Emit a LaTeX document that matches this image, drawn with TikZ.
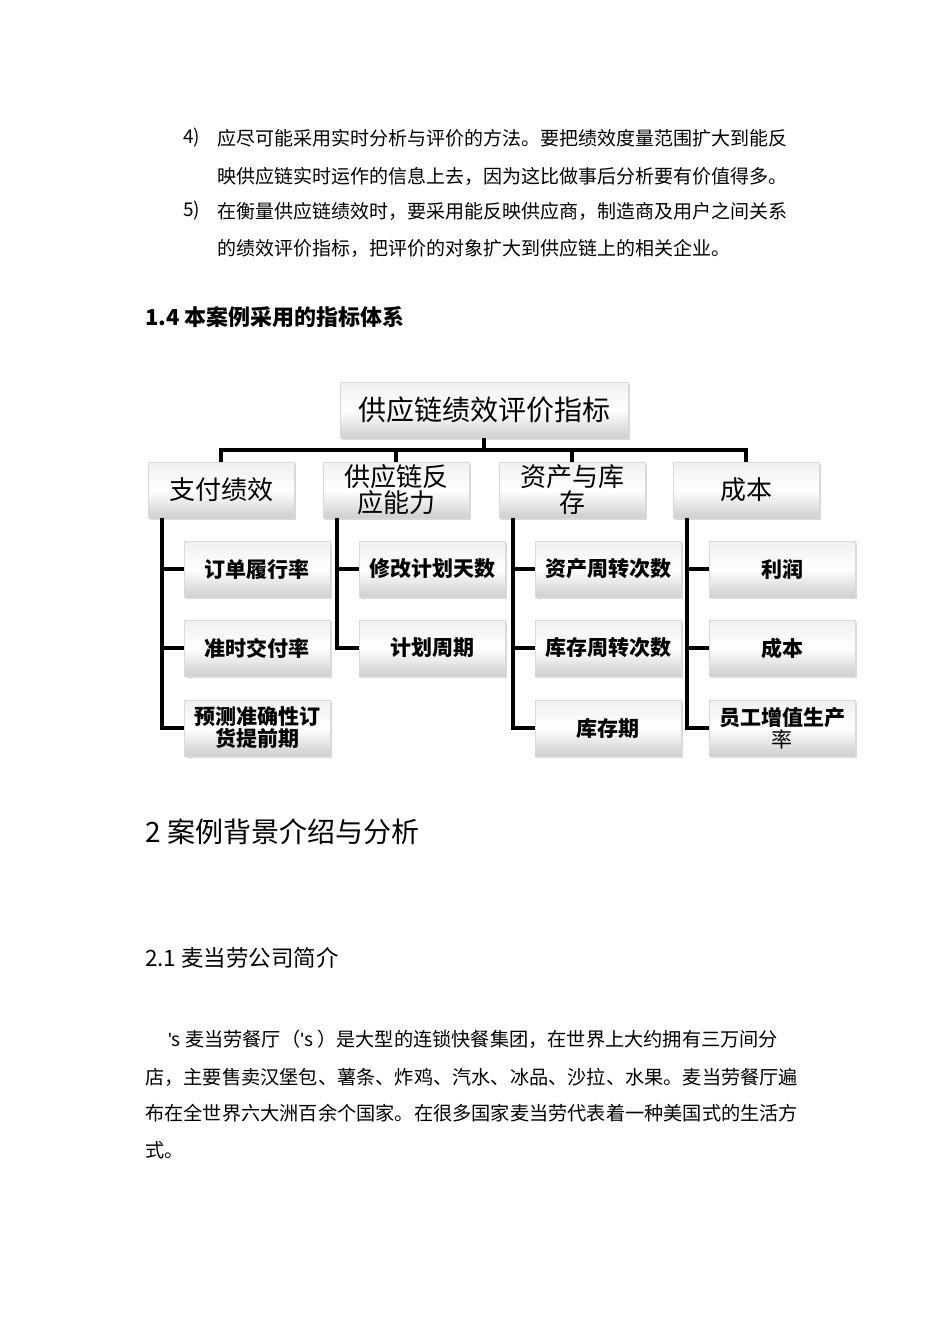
\documentclass[tikz,border=0pt]{standalone}
\usepackage{fontspec}
\setmainfont{Noto Sans CJK SC}
\newfontfamily\latinf{Liberation Sans}
\newcommand{\apos}{{\latinf\char"27}}
\usetikzlibrary{shadows}
\begin{document}
\begin{tikzpicture}[x=1pt,y=-1pt,
 bx/.style={draw=gray!30,line width=0.6pt,top color=gray!12,bottom color=gray!38,middle color=white,
   drop shadow={shadow xshift=2pt,shadow yshift=-2pt,fill=gray!50,opacity=.6},
   minimum width=146pt,minimum height=56pt,align=center,inner sep=1pt},
 ln/.style={line width=3.6pt},
 tx/.style={anchor=west,inner sep=0,font=\fontsize{19}{22}\selectfont}]
\useasboundingbox (0,0) rectangle (950,1344);
\node[tx] (n4) at (183,138) {4)};
\node[tx] (l1) at (217,138) {应尽可能采用实时分析与评价的方法。要把绩效度量范围扩大到能反};
\node[tx] (l2) at (217,176) {映供应链实时运作的信息上去，因为这比做事后分析要有价值得多。};
\node[tx] (n5) at (183,211) {5)};
\node[tx] (l3) at (217,211) {在衡量供应链绩效时，要采用能反映供应商，制造商及用户之间关系};
\node[tx] (l4) at (217,248) {的绩效评价指标，把评价的对象扩大到供应链上的相关企业。};
\node[tx,font=\fontsize{22}{26}\selectfont\bfseries] (h14) at (145,317) {1.4 本案例采用的指标体系};
% diagram
\node[bx,minimum width=288pt,font=\fontsize{28}{32}\selectfont] (root) at (484,410) {供应链绩效评价指标};
\coordinate (bar) at (484,450);
\foreach \n/\x/\t in {a/221/支付绩效,b/396/{供应链反\\应能力},c/572/{资产与库\\存},d/746/成本}{
  \node[bx,font=\fontsize{26}{26}\selectfont] (\n) at (\x,490) {\t};
}
\draw[ln] (root.south) -- (bar);
\draw[ln] (a.north) |- (bar) -| (d.north);
\draw[ln] (b.north) |- (bar);
\draw[ln] (c.north) |- (bar);
\tikzset{ch/.style={bx,font=\fontsize{21}{22}\selectfont\bfseries}}
\node[ch] (a1) at (257,569) {订单履行率};
\node[ch] (a2) at (257,648) {准时交付率};
\node[ch] (a3) at (257,728) {预测准确性订\\货提前期};
\node[ch] (b1) at (432,569) {修改计划天数};
\node[ch] (b2) at (432,648) {计划周期};
\node[ch] (c1) at (608,569) {资产周转次数};
\node[ch] (c2) at (608,648) {库存周转次数};
\node[ch] (c3) at (608,728) {库存期};
\node[ch] (d1) at (782,569) {利润};
\node[ch] (d2) at (782,648) {成本};
\node[ch] (d3) at (782,728) {员工增值生产\\{\mdseries 率}};
\foreach \p/\k/\xx in {a/3/162,b/2/337,c/3/513,d/3/687}{
  \draw[ln] (\xx,518) |- (\p\k.west);
  \foreach \i in {1,...,\k}{ \draw[ln] (\xx,0 |- \p\i.west) -- (\p\i.west); }
}
\node[tx,font=\fontsize{28}{32}\selectfont] (h2) at (145,832) {2 案例背景介绍与分析};
\node[tx,font=\fontsize{22.5}{26}\selectfont] (h21) at (145,958) {2.1 麦当劳公司简介};
\tikzset{pp/.style={tx,font=\fontsize{19.2}{22}\selectfont}}
\node[pp] (p1) at (168,1039) {\apos s 麦当劳餐厅（\apos s ）是大型的连锁快餐集团，在世界上大约拥有三万间分};
\node[pp] (p2) at (145,1077) {店，主要售卖汉堡包、薯条、炸鸡、汽水、冰品、沙拉、水果。麦当劳餐厅遍};
\node[pp] (p3) at (145,1113) {布在全世界六大洲百余个国家。在很多国家麦当劳代表着一种美国式的生活方};
\node[pp] (p4) at (145,1150) {式。};
\end{tikzpicture}
\end{document}
